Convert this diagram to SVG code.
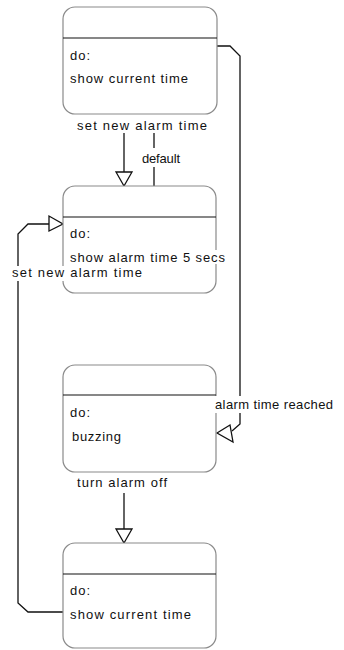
<svg xmlns="http://www.w3.org/2000/svg" width="344" height="650" viewBox="0 0 344 650">
  <style>
    .box { fill: #ffffff; stroke: #8a8a8a; stroke-width: 1.2; }
    .div { stroke: #111111; stroke-width: 1.2; }
    .wire { fill: none; stroke: #111111; stroke-width: 1.3; }
    .head { fill: #ffffff; stroke: #111111; stroke-width: 1.3; stroke-linejoin: miter; }
    .t { font-family: "Liberation Sans", Arial, sans-serif; font-size: 13px; fill: #111111; }
    .bg { fill: #ffffff; }
  </style>
  <rect width="344" height="650" fill="#ffffff"/>

  <!-- transitions -->
  <g id="connectors">
    <!-- idle -> set alarm time -->
    <line class="wire" x1="124" y1="133" x2="124" y2="172"/>
    <polygon class="head" points="116,172 132,172 124,186"/>
    <!-- default -->
    <line class="wire" x1="154" y1="133" x2="154" y2="186"/>
    <!-- idle -> buzzing -->
    <path class="wire" d="M217,46 H230 L240,56 V424 L232,431"/>
    <polygon class="head" points="217,433 230,425 233,442"/>
    <!-- buzzing -> idle (again) -->
    <line class="wire" x1="124" y1="493" x2="124" y2="529"/>
    <polygon class="head" points="116,529 132,529 124,543"/>
    <!-- idle (again) -> set alarm time -->
    <path class="wire" d="M63,612 H28 L18,603 V234 L28,224 H49"/>
    <polygon class="head" points="49,216 49,231 63,224"/>
  </g>

  <g id="state-idle">
    <rect class="box" x="63" y="7" width="154" height="107" rx="12"/>
    <line class="div" x1="63" y1="38" x2="217" y2="38"/>
    <text class="t" x="70" y="60" textLength="20">do:</text>
    <text class="t" x="70" y="83" textLength="118">show current time</text>
  </g>

  <g id="state-show-alarm">
    <rect class="box" x="63" y="186" width="153" height="107" rx="12"/>
    <line class="div" x1="63" y1="217" x2="216" y2="217"/>
    <text class="t" x="70" y="238" textLength="20">do:</text>
    <rect class="bg" x="205" y="250" width="22" height="14"/>
    <text class="t" x="70" y="262" textLength="155">show alarm time 5 secs</text>
  </g>

  <g id="state-buzzing">
    <rect class="box" x="63" y="365" width="153" height="107" rx="12"/>
    <line class="div" x1="63" y1="395" x2="216" y2="395"/>
    <text class="t" x="70" y="417" textLength="20">do:</text>
    <text class="t" x="72" y="441" textLength="49">buzzing</text>
  </g>

  <g id="state-idle-again">
    <rect class="box" x="63" y="543" width="153" height="105" rx="12"/>
    <line class="div" x1="63" y1="574" x2="216" y2="574"/>
    <text class="t" x="70" y="595" textLength="20">do:</text>
    <text class="t" x="70" y="619" textLength="121">show current time</text>
  </g>

  <!-- transition labels -->
  <g id="labels">
    <text class="t" x="77" y="130" textLength="130">set new alarm time</text>
    <rect class="bg" x="141" y="148" width="41" height="19"/>
    <text class="t" x="142" y="163" textLength="38">default</text>
    <rect class="bg" x="214" y="396" width="120" height="17"/>
    <text class="t" x="215" y="409" textLength="118">alarm time reached</text>
    <rect class="bg" x="11" y="266" width="132" height="15"/>
    <text class="t" x="12" y="277" textLength="130">set new alarm time</text>
    <text class="t" x="77" y="487" textLength="90">turn alarm off</text>
  </g>
</svg>
